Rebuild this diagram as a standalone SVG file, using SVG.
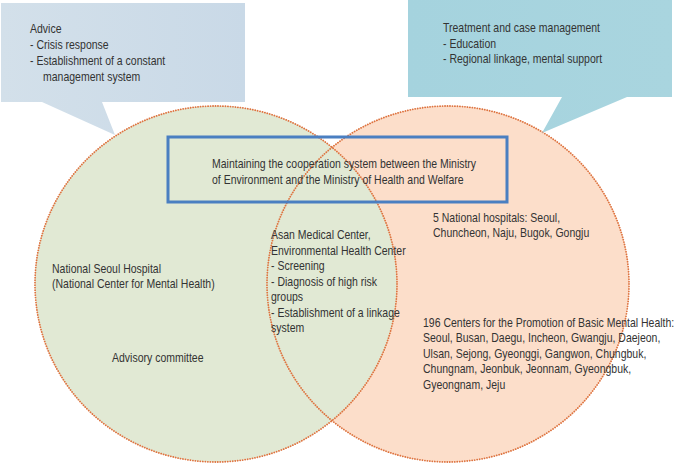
<svg xmlns="http://www.w3.org/2000/svg" width="678" height="471" viewBox="0 0 678 471">
<style>
text{font-family:"Liberation Sans",Arial,sans-serif;font-size:12.5px;fill:#333}
.dot{fill:none;stroke:#de7440;stroke-width:1.8;stroke-dasharray:0.1 2.4;stroke-linecap:round}
</style>
<defs>
<linearGradient id="gl" x1="0" y1="0" x2="1" y2="0"><stop offset="0" stop-color="#d3e0ea"/><stop offset="1" stop-color="#c9d9e7"/></linearGradient>
<linearGradient id="gr" x1="0" y1="0" x2="1" y2="0"><stop offset="0" stop-color="#a5d3de"/><stop offset="1" stop-color="#a9d5df"/></linearGradient>
</defs>
<g id="right-circle"><ellipse cx="448" cy="284" rx="181" ry="178" fill="#fcdeca"/></g>
<g id="left-circle"><ellipse cx="216" cy="284" rx="181" ry="178" fill="#e1e9d4"/></g>
<g id="outlines">
<ellipse class="dot" cx="448" cy="284" rx="181" ry="178"/>
<ellipse class="dot" cx="216" cy="284" rx="181" ry="178"/>
</g>
<g id="callout-advice">
<path d="M1,3 H245 V102 H102 L115,135 L42,102 H1 Z" fill="url(#gl)"/>
<text transform="translate(30 33) scale(.84 1)">Advice</text>
<text transform="translate(30 49) scale(.84 1)">- Crisis response</text>
<text transform="translate(30 65) scale(.84 1)">- Establishment of a constant</text>
<text transform="translate(43 81) scale(.84 1)">management system</text>
</g>
<g id="callout-treatment">
<path d="M408,0 H672 V97 H627 L542,133 L562,97 H408 Z" fill="url(#gr)"/>
<text transform="translate(443 32) scale(.84 1)">Treatment and case management</text>
<text transform="translate(443 48) scale(.84 1)">- Education</text>
<text transform="translate(443 63) scale(.84 1)">- Regional linkage, mental support</text>
</g>
<g id="cooperation">
<rect x="168" y="137" width="339" height="65" fill="none" stroke="#4a7fc1" stroke-width="3"/>
<text transform="translate(212 168) scale(.84 1)">Maintaining the cooperation system between the Ministry</text>
<text transform="translate(212 184) scale(.84 1)">of Environment and the Ministry of Health and Welfare</text>
</g>
<g id="national-seoul">
<text transform="translate(52 273) scale(.84 1)">National Seoul Hospital</text>
<text transform="translate(52 288) scale(.84 1)">(National Center for Mental Health)</text>
</g>
<g id="advisory"><text transform="translate(112 362) scale(.84 1)">Advisory committee</text></g>
<g id="asan">
<text transform="translate(271 239) scale(.84 1)">Asan Medical Center,</text>
<text transform="translate(271 255) scale(.84 1)">Environmental Health Center</text>
<text transform="translate(271 270) scale(.84 1)">- Screening</text>
<text transform="translate(271 286) scale(.84 1)">- Diagnosis of high risk</text>
<text transform="translate(271 301) scale(.84 1)">groups</text>
<text transform="translate(271 317) scale(.84 1)">- Establishment of a linkage</text>
<text transform="translate(271 332) scale(.84 1)">system</text>
</g>
<g id="national-hospitals">
<text transform="translate(433 222) scale(.84 1)">5 National hospitals: Seoul,</text>
<text transform="translate(433 237) scale(.84 1)">Chuncheon, Naju, Bugok, Gongju</text>
</g>
<g id="centers">
<text transform="translate(423 327) scale(.84 1)">196 Centers for the Promotion of Basic Mental Health:</text>
<text transform="translate(423 342) scale(.84 1)">Seoul, Busan, Daegu, Incheon, Gwangju, Daejeon,</text>
<text transform="translate(423 358) scale(.84 1)">Ulsan, Sejong, Gyeonggi, Gangwon, Chungbuk,</text>
<text transform="translate(423 373) scale(.84 1)">Chungnam, Jeonbuk, Jeonnam, Gyeongbuk,</text>
<text transform="translate(423 389) scale(.84 1)">Gyeongnam, Jeju</text>
</g>
<g id="connectors"/>
</svg>
